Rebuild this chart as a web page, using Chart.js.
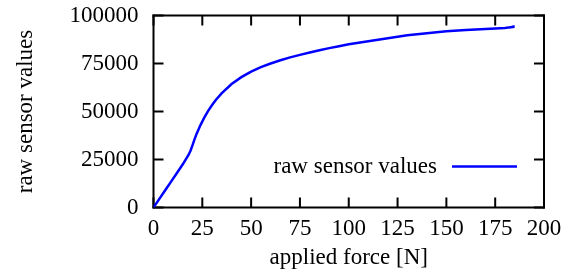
<!DOCTYPE html>
<html>
<head>
<meta charset="utf-8">
<script src="https://cdn.jsdelivr.net/npm/chart.js@4/dist/chart.umd.min.js"></script>
<style>
  html, body { margin: 0; padding: 0; background: #fff; }
  #wrap { width: 566px; height: 278px; }
</style>
</head>
<body>
<div id="wrap"><canvas id="c" width="566" height="278"></canvas></div>
<script>
// ---- data ----
const seriesLabel = 'raw sensor values';
const forceN = [0, 3, 6, 9, 12, 15, 18, 19, 20, 21, 22, 24, 26, 28, 30, 32, 35, 40, 45, 50, 55, 60, 65, 70, 75, 80, 85, 90, 95, 100, 110, 120, 130, 140, 150, 160, 170, 180, 185, 182];
const rawValues = [0, 4500, 9000, 13500, 18000, 22500, 27500, 29700, 32500, 35500, 38200, 42800, 46800, 50300, 53400, 56100, 59600, 64300, 67900, 70800, 73100, 75000, 76700, 78200, 79500, 80700, 81900, 83000, 84000, 85000, 86600, 88200, 89700, 90800, 91800, 92500, 93000, 93500, 94200, 93800];
const xTicks = [0, 25, 50, 75, 100, 125, 150, 175, 200];
const yTicks = [0, 25000, 50000, 75000, 100000];
const xTitle = 'applied force [N]';
const yTitle = 'raw sensor values';

const FONT = "'Liberation Serif', 'Times New Roman', serif";
const FSIZE = 23;
const points = forceN.map((f, i) => ({ x: f, y: rawValues[i] }));

const framePlugin = {
  id: 'frame',
  beforeDatasetsDraw(chart) {
    const ctx = chart.ctx;
    const a = chart.chartArea;
    const sx = chart.scales.x, sy = chart.scales.y;
    const L = 10, W = 2;
    ctx.save();
    ctx.fillStyle = '#000';
    // frame
    ctx.fillRect(a.left - W / 2, a.top - W / 2, a.right - a.left + W, W);
    ctx.fillRect(a.left - W / 2, a.bottom - W / 2, a.right - a.left + W, W);
    ctx.fillRect(a.left - W / 2, a.top - W / 2, W, a.bottom - a.top + W);
    ctx.fillRect(a.right - W / 2, a.top - W / 2, W, a.bottom - a.top + W);
    // inward ticks on all four sides
    for (let i = 0; i < xTicks.length; i++) {
      const px = sx.getPixelForValue(xTicks[i]);
      ctx.fillRect(px - W / 2, a.bottom - L, W, L);
      ctx.fillRect(px - W / 2, a.top, W, L);
    }
    for (let i = 0; i < yTicks.length; i++) {
      const py = sy.getPixelForValue(yTicks[i]);
      ctx.fillRect(a.left, py - W / 2, L, W);
      ctx.fillRect(a.right - L, py - W / 2, L, W);
    }
    ctx.restore();
  },
  afterDatasetsDraw(chart) {
    const ctx = chart.ctx;
    const a = chart.chartArea;
    const ds = chart.data.datasets[0];
    const lineEnd = a.right - 27;
    const lineStart = lineEnd - 65;
    const y = a.top + 151;
    ctx.save();
    ctx.font = FSIZE + 'px ' + FONT;
    ctx.fillStyle = '#000';
    ctx.textAlign = 'right';
    ctx.textBaseline = 'middle';
    ctx.fillText(ds.label, lineStart - 15, y);
    ctx.strokeStyle = ds.borderColor;
    ctx.lineWidth = 2.5;
    ctx.beginPath();
    ctx.moveTo(lineStart, y); ctx.lineTo(lineEnd, y);
    ctx.stroke();
    ctx.restore();
  }
};

new Chart(document.getElementById('c'), {
  type: 'line',
  data: {
    datasets: [{
      label: seriesLabel,
      data: points,
      borderColor: '#0000ff',
      borderWidth: 2.5,
      pointRadius: 0,
      fill: false,
      tension: 0
    }]
  },
  options: {
    responsive: false,
    animation: false,
    devicePixelRatio: 1,
    layout: { padding: { left: 12, right: 22, top: 15.5, bottom: 6 } },
    plugins: { legend: { display: false }, tooltip: { enabled: false } },
    scales: {
      x: {
        type: 'linear', min: 0, max: 200,
        afterBuildTicks: s => { s.ticks = xTicks.map(v => ({ value: v })); },
        afterFit: s => { s.height = 64.5; s.paddingLeft = 0; s.paddingRight = 0; },
        grid: { display: false, drawTicks: false },
        border: { display: false },
        ticks: { color: '#000', font: { family: FONT, size: FSIZE }, padding: 8, maxRotation: 0, autoSkip: false },
        title: { display: true, text: xTitle, color: '#000', font: { family: FONT, size: FSIZE }, padding: { top: 0, bottom: 0 } }
      },
      y: {
        type: 'linear', min: 0, max: 100000,
        afterBuildTicks: s => { s.ticks = yTicks.map(v => ({ value: v })); },
        afterFit: s => { s.width = 141.5; s.paddingTop = 0; s.paddingBottom = 0; },
        grid: { display: false, drawTicks: false },
        border: { display: false },
        ticks: { color: '#000', font: { family: FONT, size: FSIZE }, padding: 15, autoSkip: false, callback: v => String(v) },
        title: { display: true, text: yTitle, color: '#000', font: { family: FONT, size: FSIZE }, padding: { top: 0, bottom: 0 } }
      }
    }
  },
  plugins: [framePlugin]
});
</script>
</body>
</html>
